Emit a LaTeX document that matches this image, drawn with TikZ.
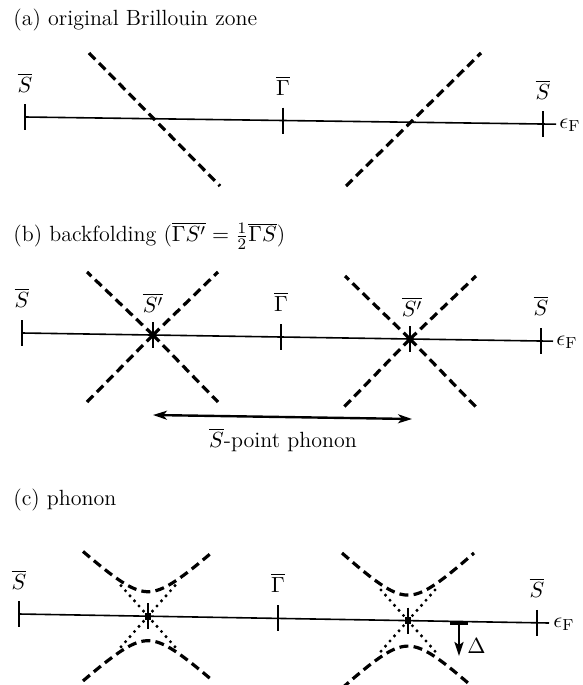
\documentclass[tikz,border=0pt]{standalone}
\usetikzlibrary{arrows.meta}
\begin{document}
\begin{tikzpicture}[x=0.5pt,y=-0.5pt,
  lbl/.style={font=\fontsize{11}{13}\selectfont, inner sep=0pt},
  ttl/.style={lbl, anchor=west},
  axisline/.style={line width=0.8pt},
  tickmark/.style={line width=1.4pt},
  band/.style={line width=1.6pt, dash pattern=on 4.5pt off 2.6pt},
  dotband/.style={line width=1.7pt, dash pattern=on 0pt off 3.4pt, line cap=round},
  bdot/.style={circle, fill=black, inner sep=0pt, minimum size=3.6pt},
  cdot/.style={rectangle, fill=black, inner sep=0pt, minimum size=3.4pt},
  dblarrow/.style={line width=1.2pt, {Stealth[length=7pt,width=4.5pt,inset=2pt]}-{Stealth[length=7pt,width=4.5pt,inset=2pt]}},
]
\useasboundingbox (0,0) rectangle (583,685);

% ---------------- (a) ----------------
\node[ttl] (ta) at (13,20) {(a) original Brillouin zone};
\coordinate (aS1) at (25,117);
\coordinate (aG)  at (283,120.5);
\coordinate (aS2) at (543,124);
\coordinate (aE)  at (556,124.2);
\draw[axisline] (aS1) -- (aE);
\foreach \p in {aS1,aG,aS2} \draw[tickmark] (\p) ++(0,-13) -- ++(0,26);
\node[lbl] (laS1) at (25,83) {$\overline{S}$};
\node[lbl] (laG)  at (283,86) {$\overline{\Gamma}$};
\node[lbl] (laS2) at (543,90) {$\overline{S}$};
\node[lbl, anchor=west] (laE) at (559,125) {$\epsilon_{\mathrm F}$};
\coordinate (a1s) at (89,53);  \coordinate (a1e) at (220,186);
\coordinate (a2s) at (346,186); \coordinate (a2e) at (481,53);
\draw[band] (a1s) -- (a1e);
\draw[band] (a2s) -- (a2e);

% ---------------- (b) ----------------
\node[ttl] (tb) at (13,236) {(b) backfolding ($\overline{\Gamma S'}=\frac{1}{2}\overline{\Gamma S}$)};
\coordinate (bS1) at (22,333);
\node[bdot] (bd1) at (153,335) {};
\coordinate (bG)  at (281,337);
\node[bdot] (bd2) at (410,339) {};
\coordinate (bS2) at (541,341);
\coordinate (bE)  at (553,341.2);
\draw[axisline] (bS1) -- (bE);
\foreach \p in {bS1,bd1.center,bG,bd2.center,bS2} \draw[tickmark] (\p) ++(0,-13) -- ++(0,26);
\node[lbl] (lbS1) at (22,298) {$\overline{S}$};
\node[lbl] (lbSp1) at (153,303) {$\overline{S'}$};
\node[lbl] (lbG)  at (281,302) {$\overline{\Gamma}$};
\node[lbl] (lbSp2) at (412,307) {$\overline{S'}$};
\node[lbl] (lbS2) at (541,306) {$\overline{S}$};
\node[lbl, anchor=west] (lbE) at (556,342) {$\epsilon_{\mathrm F}$};
\draw[band] (bd1.center) -- ++(-66,-63);
\draw[band] (bd1.center) -- ++(65,-63);
\draw[band] (bd1.center) -- ++(-66,67);
\draw[band] (bd1.center) -- ++(65,67);
\draw[band] (bd2.center) -- ++(-65,-63);
\draw[band] (bd2.center) -- ++(66,-63);
\draw[band] (bd2.center) -- ++(-66,68);
\draw[band] (bd2.center) -- ++(66,68);
\coordinate (ph1) at (153,415);
\coordinate (ph2) at (412,419);
\draw[dblarrow] (ph1) -- (ph2);
\node[lbl] (lph) at (283,440) {$\overline{S}$-point phonon};

% ---------------- (c) ----------------
\node[ttl] (tc) at (13,500) {(c) phonon};
\coordinate (cS1) at (19,614);
\node[cdot] (cd1) at (148,616.2) {};
\coordinate (cG)  at (278,618.4);
\node[cdot] (cd2) at (408,620.6) {};
\coordinate (cS2) at (537,622.8);
\coordinate (cE)  at (549,623);
\draw[axisline] (cS1) -- (cE);
\foreach \p in {cS1,cd1.center,cG,cd2.center,cS2} \draw[tickmark] (\p) ++(0,-13) -- ++(0,26);
\node[lbl] (lcS1) at (19,580) {$\overline{S}$};
\node[lbl] (lcG)  at (278,583) {$\overline{\Gamma}$};
\node[lbl] (lcS2) at (537,588) {$\overline{S}$};
\node[lbl, anchor=west] (lcE) at (553,624) {$\epsilon_{\mathrm F}$};
% gapped bands
\draw[band] plot[domain=-65:65,samples=50,smooth] ({148+\x},{616.2-sqrt(600+0.85*\x*\x)});
\draw[band] plot[domain=-65:65,samples=50,smooth] ({148+\x},{616.2+sqrt(600+0.85*\x*\x)});
\draw[band] plot[domain=-66:66,samples=50,smooth] ({408+\x},{620.6-sqrt(650+0.9*\x*\x)});
\draw[band] plot[domain=-66:66,samples=50,smooth] ({408+\x},{620.6+sqrt(650+0.9*\x*\x)});
% original crossing (dotted)
\foreach \dx/\dy in {-30/-34,30/-34,-30/34,30/34}{
  \draw[dotband] (cd1.center) -- ++(\dx,\dy);
  \draw[dotband] (cd2.center) -- ++(\dx,\dy);
}
% gap arrow
\coordinate (gt) at (459,621.5);
\coordinate (gb) at (459,656);
\draw[line width=1.1pt, {Bar[width=9pt,line width=1.6pt]}-{Stealth[length=7pt,width=4.5pt,inset=1.5pt]}] (gt) -- (gb);
\node[lbl, anchor=west] (lgap) at (467,646) {$\Delta$};
\end{tikzpicture}
\end{document}
